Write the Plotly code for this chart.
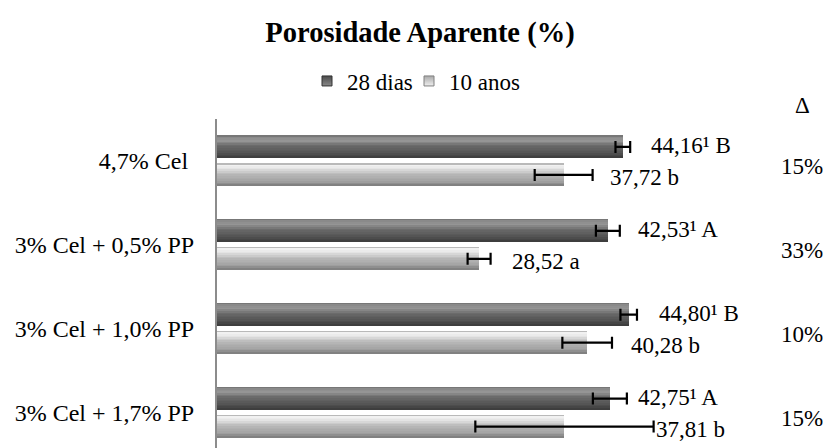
import plotly.graph_objects as go

# ---------------- data ----------------
categories = ["4,7% Cel\u00a0", "3% Cel + 0,5% PP", "3% Cel + 1,0% PP", "3% Cel + 1,7% PP"]
series_names = ["28 dias", "10 anos"]
values_28d = [44.16, 42.53, 44.80, 42.75]
values_10a = [37.72, 28.52, 40.28, 37.81]
err_28d = [0.8, 1.3, 0.9, 1.85]
err_10a = [3.15, 1.25, 2.7, 9.7]
labels_28d = ["44,16¹ B", "42,53¹ A", "44,80¹ B", "42,75¹ A"]
labels_10a = ["37,72 b", "28,52 a", "40,28 b", "37,81 b"]
delta_header = "Δ"
delta = ["15%", "33%", "10%", "15%"]
title = "Porosidade Aparente (%)"

# ---------------- layout constants ----------------
W, H = 829, 448
ML, MR, MT, MB = 217, 60, 118.5, 0
PX_PER_UNIT = 9.19          # x scale
PX_PER_CAT = 84.0           # y scale
plot_w = W - ML - MR
plot_h = H - MT - MB
x_max = plot_w / PX_PER_UNIT
y_top = -0.5
y_bot = y_top + plot_h / PX_PER_CAT

BAR_W = 23 / PX_PER_CAT
OFF = 14 / PX_PER_CAT
FONT = "Liberation Serif, Times New Roman, serif"
FS = 23

dark_stops = [(0.0, (0x6a,) * 3), (0.08, (0x88,) * 3), (0.25, (0x95,) * 3),
              (0.45, (0x6c,) * 3), (0.75, (0x55,) * 3), (1.0, (0x3a,) * 3)]
light_stops = [(0.0, (0x9a,) * 3), (0.1, (0xf2,) * 3), (0.25, (0xe4,) * 3),
               (0.5, (0xb8,) * 3), (0.8, (0xa2,) * 3), (1.0, (0x7a,) * 3)]


def color_at(stops, f):
    for (f0, c0), (f1, c1) in zip(stops[:-1], stops[1:]):
        if f0 <= f <= f1:
            t = (f - f0) / (f1 - f0) if f1 > f0 else 0
            c = [round(a + (b - a) * t) for a, b in zip(c0, c1)]
            return "rgb(%d,%d,%d)" % tuple(c)
    return "rgb(%d,%d,%d)" % stops[-1][1]


fig = go.Figure()
NB = 14
idx = list(range(len(categories)))

for vals, sign, stops in [(values_28d, -1, dark_stops), (values_10a, 1, light_stops)]:
    centers = [i + sign * OFF for i in idx]
    bh = BAR_W / NB
    for k in range(NB):
        f = (k + 0.5) / NB
        fig.add_trace(go.Bar(
            x=vals, y=[c - BAR_W / 2 + (k + 0.5) * bh for c in centers],
            orientation="h", width=bh * 1.04, base=0,
            marker=dict(color=color_at(stops, f), line=dict(width=0)),
            showlegend=False, hoverinfo="skip"))

# error bars
for vals, errs, sign in [(values_28d, err_28d, -1), (values_10a, err_10a, 1)]:
    fig.add_trace(go.Scatter(
        x=vals, y=[i + sign * OFF for i in idx], mode="markers",
        marker=dict(size=1, color="rgba(0,0,0,0)"),
        error_x=dict(type="data", array=errs, color="black", thickness=2.2, width=6),
        showlegend=False, hoverinfo="skip"))

# legend entries (one legend box per series so they can sit close together)
for name, col, gcol, lc, lg in [(series_names[0], "#4a4a4a", "#8a8a8a", "#333333", "legend"),
                                (series_names[1], "#a8a8a8", "#f0f0f0", "#808080", "legend2")]:
    fig.add_trace(go.Scatter(
        x=[None], y=[None], mode="markers", name=name, legend=lg,
        marker=dict(symbol="square", size=10, color=col,
                    gradient=dict(type="vertical", color=gcol),
                    line=dict(color=lc, width=1))))

annotations = []
label_shift_28 = [19, 16, 20, 9]
label_shift_10 = [15, 19, 17, 0]
for i in idx:
    annotations.append(dict(x=values_28d[i] + err_28d[i], y=i - OFF, xref="x", yref="y",
                            text=labels_28d[i], showarrow=False, xanchor="left",
                            xshift=label_shift_28[i], yshift=1,
                            font=dict(family=FONT, size=FS, color="black")))
    annotations.append(dict(x=values_10a[i] + err_10a[i], y=i + OFF, xref="x", yref="y",
                            text=labels_10a[i], showarrow=False, xanchor="left",
                            xshift=label_shift_10[i], yshift=-3,
                            font=dict(family=FONT, size=FS, color="black")))
    annotations.append(dict(x=(802 - ML) / plot_w, y=i, xref="paper", yref="y",
                            text=delta[i], showarrow=False, xanchor="center", yshift=-6,
                            font=dict(family=FONT, size=FS, color="black")))
annotations.append(dict(x=(802 - ML) / plot_w, y=(H - 105 - MB) / plot_h, xref="paper", yref="paper",
                        text=delta_header, showarrow=False, xanchor="center", yanchor="middle",
                        font=dict(family=FONT, size=FS, color="black")))

legend_common = dict(orientation="h", xref="container", xanchor="left",
                     y=1 - 81 / H, yref="container", yanchor="middle",
                     font=dict(family=FONT, size=FS, color="black"),
                     itemwidth=30, bgcolor="rgba(0,0,0,0)")

fig.update_layout(
    width=W, height=H,
    margin=dict(l=ML, r=MR, t=MT, b=MB, pad=0, autoexpand=False),
    paper_bgcolor="white", plot_bgcolor="white",
    barmode="overlay", bargap=0,
    title=dict(text="<b>" + title + "</b>", x=420 / W, xref="container", xanchor="center",
               y=1 - 32 / H, yref="container", yanchor="middle",
               font=dict(family=FONT, size=28.5, color="black")),
    xaxis=dict(range=[0, x_max], visible=False, showgrid=False, zeroline=False, automargin=False),
    yaxis=dict(range=[y_bot, y_top], tickvals=idx, ticktext=categories, automargin=False,
               showgrid=False, zeroline=False, showline=True, linecolor="#8c8c8c", linewidth=2,
               ticks="", ticklabelstandoff=16,
               tickfont=dict(family=FONT, size=24, color="black")),
    legend=dict(x=307 / W, **legend_common),
    legend2=dict(x=409 / W, **legend_common),
    annotations=annotations,
    showlegend=True,
)

fig.write_html("out.html",
               config={"displayModeBar": False},
               post_script="document.body.style.margin='0';document.body.style.padding='0';")
